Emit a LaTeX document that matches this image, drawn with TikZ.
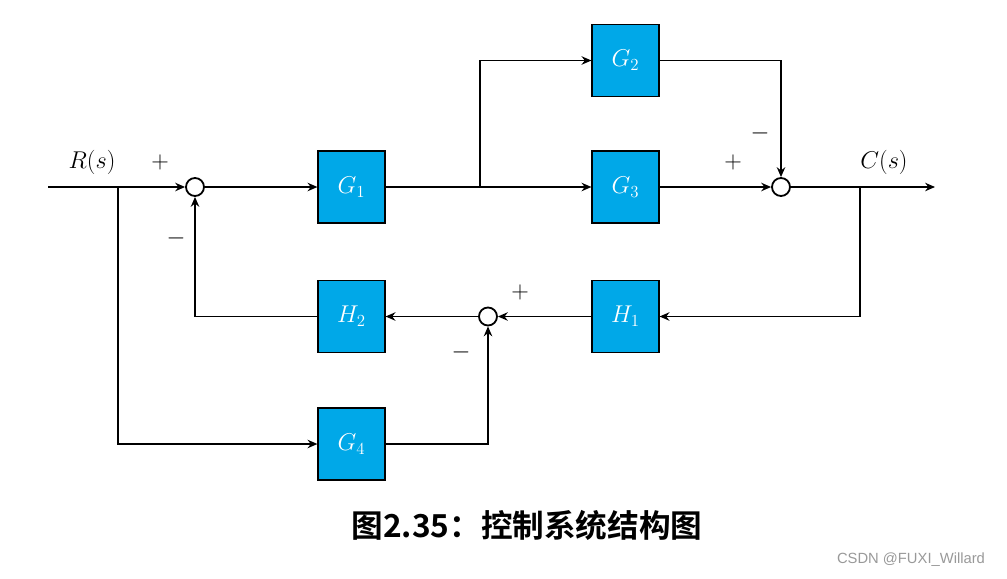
\documentclass[tikz,border=0pt]{standalone}
\usepackage{fontspec}
\usepackage{amsmath}
\usepackage{tikz}
\usetikzlibrary{arrows.meta, positioning, calc}
\newfontfamily\cjkbold[BoldFont={Noto Sans CJK SC Bold}]{Noto Sans CJK SC}
\newfontfamily\markfont{Liberation Sans}
\definecolor{blockblue}{RGB}{0,168,232}

\begin{document}
\begin{tikzpicture}[x=0.025cm, y=-0.025cm, >={Stealth[length=7pt,width=6pt]}, line width=1.3pt]
        \tikzset{
            block/.style={draw, line width=0.8pt, fill=blockblue, text=white, minimum width=1.675cm, minimum height=1.8cm, font=\fontsize{17}{20}\selectfont},
            sumnode/.style={draw, circle, fill=white, line width=1.3pt, minimum size=0.45cm, inner sep=0pt},
            sign/.style={font=\fontsize{16.5}{20}\selectfont}
        }
        \useasboundingbox (0,0) rectangle (1007,579);

        % forward path
        \node[sumnode] (sum1) at (195,187) {};
        \node[block] (G1) at (351.5,187) {$G_1$};
        \node[block] (G2) at (625.5,60.5) {$G_2$};
        \node[block] (G3) at (625.5,187) {$G_3$};
        \node[sumnode] (sum2) at (781,187) {};

        % feedback path
        \node[block] (H1) at (625.5,316.5) {$H_1$};
        \node[sumnode] (sum3) at (488,316.5) {};
        \node[block] (H2) at (351.5,316.5) {$H_2$};
        \node[block] (G4) at (351.5,444) {$G_4$};

        \coordinate (in) at (48,187);
        \coordinate (out) at (935,187);
        \coordinate (bin) at (118,187);
        \coordinate (bmid) at (480,187);
        \coordinate (bout) at (860,187);

        \draw[->] (in) -- (sum1);
        \draw[->] (sum1) -- (G1);
        \draw[->] (G1) -- (G3);
        \draw[->] (bmid) |- (G2);
        \draw[->] (G2) -| (sum2);
        \draw[->] (G3) -- (sum2);
        \draw[->] (sum2) -- (out);
        \draw[->] (bout) |- (H1);
        \draw[->] (H1) -- (sum3);
        \draw[->] (sum3) -- (H2);
        \draw[->] (H2) -| (sum1);
        \draw[->] (bin) |- (G4);
        \draw[->] (G4) -| (sum3);

        % labels and signs
        \node[sign] (rin) at (92,162) {$R(s)$};
        \node[sign] (cout) at (884,162) {$C(s)$};
        \node[sign] (p1) at (160,162) {$+$};
        \node[sign] (m1) at (176,238) {$-$};
        \node[sign] (p2) at (733,162) {$+$};
        \node[sign] (m2) at (760,133) {$-$};
        \node[sign] (p3) at (520,292) {$+$};
        \node[sign] (m3) at (461,352) {$-$};

        \node[font=\cjkbold\bfseries\fontsize{22.5}{26}\selectfont] (title) at (527,525) {图2.35：控制系统结构图};
        \node[font=\markfont\fontsize{10.5}{12}\selectfont, text=gray!80] (mark) at (911,560) {CSDN @FUXI\_Willard};
    \end{tikzpicture}
\end{document}
